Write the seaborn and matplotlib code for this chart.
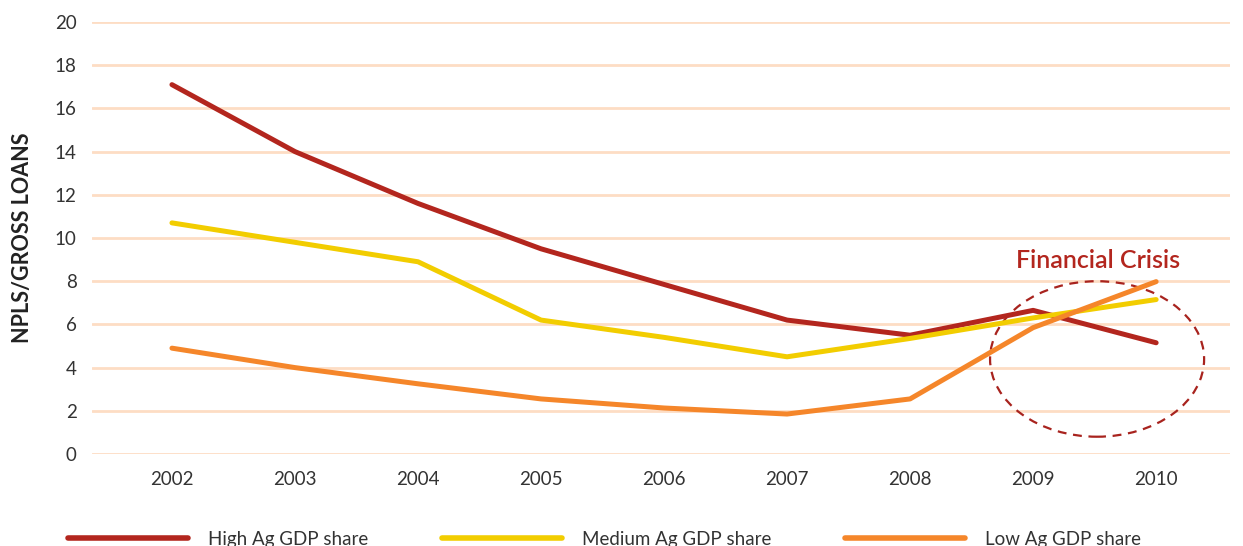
import matplotlib
matplotlib.use("Agg")
import matplotlib.pyplot as plt
from matplotlib.patches import Ellipse
import pandas as pd
import seaborn as sns

# Data
years = [2002, 2003, 2004, 2005, 2006, 2007, 2008, 2009, 2010]
high_ag = [17.1, 14.0, 11.6, 9.5, 7.85, 6.2, 5.5, 6.65, 5.15]
medium_ag = [10.7, 9.8, 8.9, 6.2, 5.4, 4.5, 5.35, 6.3, 7.15]
low_ag = [4.9, 4.0, 3.25, 2.55, 2.13, 1.85, 2.55, 5.85, 7.98]
series_names = ["High Ag GDP share", "Medium Ag GDP share", "Low Ag GDP share"]
colors = ["#B3261E", "#F2CD00", "#F5862A"]

df = pd.DataFrame({
    "year": years * 3,
    "value": high_ag + medium_ag + low_ag,
    "series": [series_names[0]] * 9 + [series_names[1]] * 9 + [series_names[2]] * 9,
})

sns.set_theme(style="white")
plt.rcParams["font.family"] = ["Lato", "DejaVu Sans"]

fig = plt.figure(figsize=(12.43, 5.46), dpi=100)
ax = fig.add_axes([0.074, 0.1685, 0.9155, 0.7912])

sns.lineplot(data=df, x="year", y="value", hue="series", palette=colors,
             hue_order=series_names, linewidth=3.6, ax=ax, legend=True)

handles, labels = ax.get_legend_handles_labels()
ax.get_legend().remove()

ax.set_xlim(2001.35, 2010.6)
ax.set_ylim(0, 20)
ax.set_yticks(range(0, 21, 2))
ax.set_xticks(years)
ax.yaxis.grid(True, color="#FDDDC4", linewidth=2)
ax.xaxis.grid(False)
for s in ax.spines.values():
    s.set_visible(False)
ax.tick_params(axis="both", length=0, labelsize=13.5, labelcolor="#333333")
ax.tick_params(axis="x", pad=12)
ax.tick_params(axis="y", pad=11)
ax.set_xlabel("")
ax.set_ylabel("NPLS/GROSS LOANS", fontsize=15.5, fontweight="bold",
              color="#222222", labelpad=16)
for line in ax.get_lines():
    line.set_solid_capstyle("round")
    line.set_solid_joinstyle("round")

# Financial crisis annotation
ax.add_patch(Ellipse((2009.52, 4.4), 1.74, 7.2, fill=False, edgecolor="#A8231E",
                     linestyle=(0, (4, 3)), linewidth=1.6, clip_on=False))
ax.text(2009.53, 8.95, "Financial Crisis", color="#B3261E", fontsize=18,
        fontweight="semibold", ha="center", va="center")

leg = fig.legend(handles, labels, loc="center left", bbox_to_anchor=(0.041, 0.012),
                 ncol=3, frameon=False, fontsize=13.5, handlelength=6.4,
                 handletextpad=1.05, columnspacing=3.95, labelcolor="#333333")
for lh in leg.get_lines():
    lh.set_linewidth(4)
    lh.set_solid_capstyle("round")

fig.savefig("out.png", dpi=100)
